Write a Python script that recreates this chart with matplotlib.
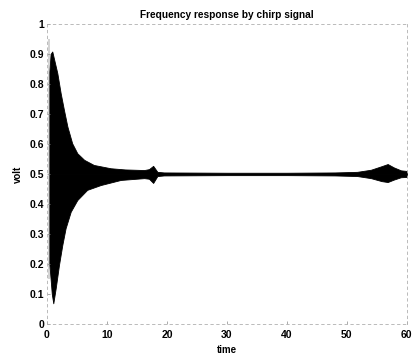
import matplotlib
matplotlib.use("Agg")
import matplotlib.pyplot as plt

# envelope of the chirp response
t_up = [0.4, 0.6, 0.88, 1.72, 2.28, 2.83, 3.4, 4.2, 5.05, 6.2, 7.8, 10.6,
        13.0, 16.2, 17.0, 17.7, 18.4, 19.5, 30, 40, 48, 51.7, 54, 55.8,
        56.8, 57.8, 59, 60]
v_up = [0.84, 0.9, 0.908, 0.836, 0.769, 0.713, 0.658, 0.602, 0.569, 0.547,
        0.53, 0.519, 0.515, 0.513, 0.516, 0.527, 0.507, 0.505, 0.504, 0.504,
        0.505, 0.507, 0.514, 0.526, 0.533, 0.522, 0.512, 0.51]

t_lo = [0.4, 0.6, 0.8, 1.05, 1.45, 2.0, 2.55, 3.1, 3.95, 5.05, 6.7, 8.95,
        12.3, 16.2, 17.0, 17.7, 18.4, 19.5, 30, 40, 48, 51.7, 54, 55.8,
        56.8, 57.8, 59, 60]
v_lo = [0.2, 0.15, 0.1, 0.069, 0.119, 0.197, 0.263, 0.319, 0.374, 0.413,
        0.447, 0.463, 0.48, 0.486, 0.484, 0.47, 0.493, 0.495, 0.496, 0.496,
        0.495, 0.493, 0.486, 0.476, 0.473, 0.481, 0.489, 0.49]

# faint grey start-up trace at the very left
t_start = [0.1, 0.5]
start_upper = [0.95, 0.95]
start_lower = [0.15, 0.15]

xticks = [0, 10, 20, 30, 40, 50, 60]
yticks = [0, 0.1, 0.2, 0.3, 0.4, 0.5, 0.6, 0.7, 0.8, 0.9, 1]
ylabels = ["0", "0.1", "0.2", "0.3", "0.4", "0.5", "0.6", "0.7", "0.8", "0.9", "1"]

plt.rcParams['font.family'] = ['Liberation Sans', 'DejaVu Sans']

fig = plt.figure(figsize=(4.17, 3.56), dpi=100)
ax = fig.add_axes([0.1127, 0.0899, 0.863, 0.843])

ax.fill_between(t_start, start_lower, start_upper, color='#d4d4d4', lw=0)
# upper and lower halves drawn against the 0.5 centre line
ax.fill_between(t_up, [0.5] * len(t_up), v_up, color='black', lw=0.6, edgecolor='black')
ax.fill_between(t_lo, v_lo, [0.5] * len(t_lo), color='black', lw=0.6, edgecolor='black')

ax.set_xlim(0, 60)
ax.set_ylim(0, 1)
ax.set_xticks(xticks)
ax.set_yticks(yticks)
ax.set_yticklabels(ylabels)
ax.tick_params(direction='in', length=2, width=0.5, labelsize=7.5, pad=2,
               color='#888888')
ax.tick_params(axis='x', pad=4)
for lab in ax.get_xticklabels() + ax.get_yticklabels():
    lab.set_fontweight('bold')

for sp in ax.spines.values():
    sp.set_color('#b0b0b0')
    sp.set_linewidth(0.6)
    sp.set_linestyle((0, (3, 4)))

ax.set_title('Frequency response by chirp signal', fontsize=7.3, fontweight='bold', pad=4)
ax.set_xlabel('time', fontsize=7, fontweight='bold', labelpad=4)
ax.set_ylabel('volt', fontsize=7, fontweight='bold', labelpad=5)

fig.savefig('out.png', dpi=100)
